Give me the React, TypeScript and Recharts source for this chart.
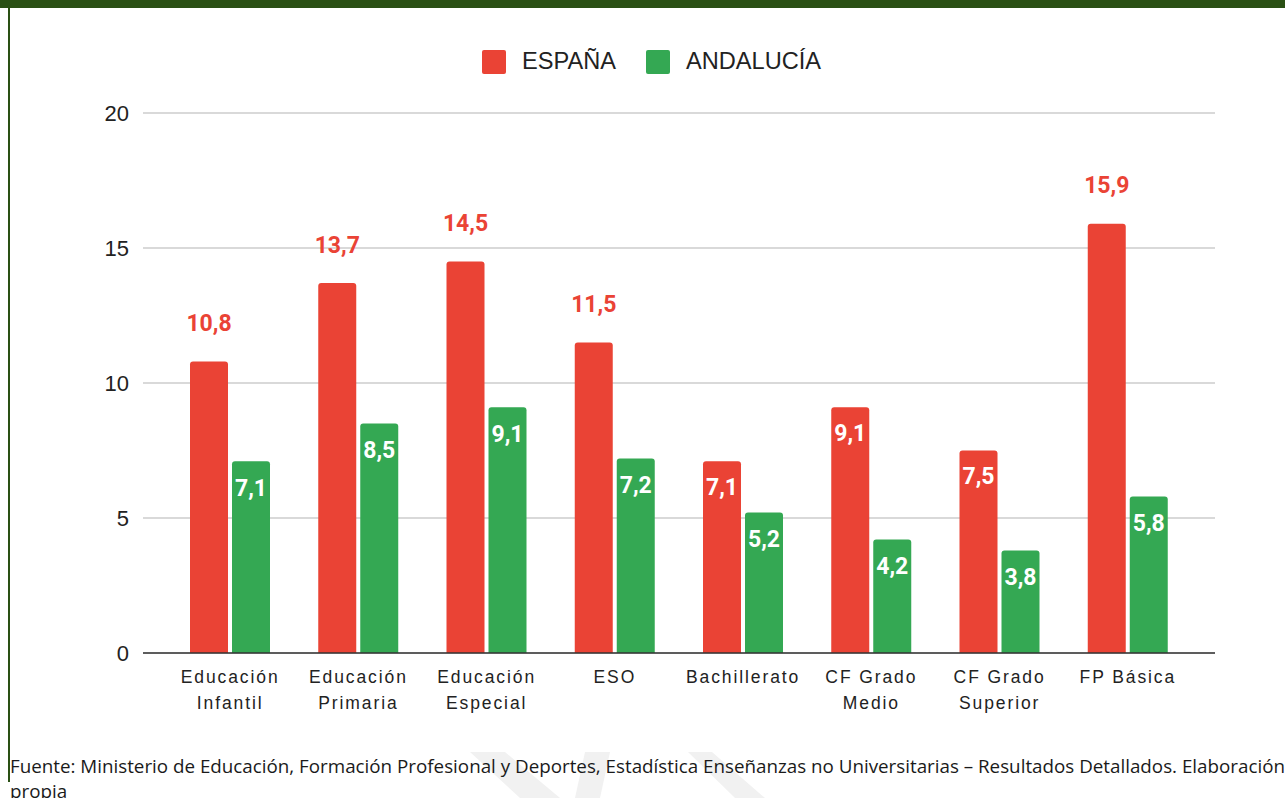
import React from 'react';
import { BarChart, Bar, XAxis, YAxis, CartesianGrid, LabelList } from 'recharts';

const categories = [
  'Educación\nInfantil',
  'Educación\nPrimaria',
  'Educación\nEspecial',
  'ESO',
  'Bachillerato',
  'CF Grado\nMedio',
  'CF Grado\nSuperior',
  'FP Básica',
];
const espana = [10.8, 13.7, 14.5, 11.5, 7.1, 9.1, 7.5, 15.9];
const andalucia = [7.1, 8.5, 9.1, 7.2, 5.2, 4.2, 3.8, 5.8];
const yTicks = [0, 5, 10, 15, 20];

const RED = '#ea4335';
const GREEN = '#34a853';
const SANS = '"Liberation Sans", Arial, sans-serif';

const data = categories.map((name, i) => ({ name, espana: espana[i], andalucia: andalucia[i] }));

const fmt = (v: number) => v.toFixed(1).replace('.', ',');

// labels for España sit above tall bars, inside the short ones
const SpainLabel = (props: any) => {
  const { x, y, width, value } = props;
  const cx = x + width / 2;
  const outside = value >= 10;
  return (
    <text
      x={cx}
      y={outside ? y - 38 : y + 26}
      textAnchor="middle"
      dominantBaseline="central"
      fill={outside ? RED : '#fff'}
      fontFamily="Roboto, sans-serif"
      fontWeight={700}
      fontSize={23}
    >
      {fmt(value)}
    </text>
  );
};

const AndaluciaLabel = (props: any) => {
  const { x, y, width, value } = props;
  return (
    <text
      x={x + width / 2}
      y={y + 27}
      textAnchor="middle"
      dominantBaseline="central"
      fill="#fff"
      fontFamily="Roboto, sans-serif"
      fontWeight={700}
      fontSize={23}
    >
      {fmt(value)}
    </text>
  );
};

const CategoryTick = (props: any) => {
  const { x, y, payload } = props;
  const lines = String(payload.value).split('\n');
  return (
    <g transform={`translate(${x},${y})`}>
      {lines.map((line, i) => (
        <text
          key={i}
          x={0}
          y={28 + i * 26}
          textAnchor="middle"
          fill="#222"
          fontFamily={SANS}
          fontSize={17.5}
          letterSpacing={1.9}
        >
          {line}
        </text>
      ))}
    </g>
  );
};

const LegendItem = ({ color, label }: { color: string; label: string }) => (
  <div style={{ display: 'flex', alignItems: 'center' }}>
    <div style={{ width: 24, height: 24, borderRadius: 2, background: color, marginRight: 16 }} />
    <span style={{ fontFamily: SANS, fontSize: 23.6, color: '#222' }}>{label}</span>
  </div>
);

export default function App() {
  return (
    <div
      style={{
        position: 'absolute',
        left: 0,
        top: 0,
        width: 1285,
        height: 798,
        overflow: 'hidden',
        background: '#fff',
      }}
    >
      <div style={{ position: 'absolute', left: 0, top: 0, width: 1285, height: 8, background: '#2a5014' }} />
      <div style={{ position: 'absolute', left: 8, top: 8, width: 2, height: 774, background: '#2a5014' }} />

      {/* faint watermark behind the footer */}
      <svg style={{ position: 'absolute', left: 0, top: 0 }} width={1285} height={798}>
        <polygon points="470,752 505,752 560,798 520,798" fill="#f1f1f1" />
        <polygon points="585,752 610,752 600,798 575,798" fill="#f1f1f1" />
        <polygon points="688,752 712,752 765,798 735,798" fill="#f1f1f1" />
      </svg>

      <div style={{ position: 'absolute', left: 482, top: 48, display: 'flex', gap: 30 }}>
        <LegendItem color={RED} label="ESPAÑA" />
        <LegendItem color={GREEN} label="ANDALUCÍA" />
      </div>

      <div style={{ position: 'absolute', left: 0, top: 0 }}>
        <BarChart
          width={1285}
          height={760}
          data={data}
          margin={{ top: 113, right: 70, bottom: 27, left: 0 }}
          barSize={38}
          barGap={4}
        >
          <CartesianGrid vertical={false} stroke="#cccccc" strokeWidth={1.5} />
          <XAxis
            dataKey="name"
            height={80}
            padding={{ left: 23, right: 23 }}
            tickLine={false}
            tickSize={0}
            axisLine={{ stroke: '#333', strokeWidth: 1.5 }}
            tick={<CategoryTick />}
            interval={0}
          />
          <YAxis
            width={143}
            domain={[0, 20]}
            ticks={yTicks}
            axisLine={false}
            tickLine={false}
            tickSize={0}
            tickMargin={14}
            tick={{ fill: '#222', fontSize: 22, fontFamily: SANS }}
          />
          <Bar dataKey="espana" fill={RED} radius={[3, 3, 0, 0]} isAnimationActive={false}>
            <LabelList dataKey="espana" content={<SpainLabel />} />
          </Bar>
          <Bar dataKey="andalucia" fill={GREEN} radius={[3, 3, 0, 0]} isAnimationActive={false}>
            <LabelList dataKey="andalucia" content={<AndaluciaLabel />} />
          </Bar>
        </BarChart>
      </div>

      <div
        style={{
          position: 'absolute',
          left: 10,
          top: 754,
          width: 1300,
          fontFamily: '"Open Sans", sans-serif',
          fontSize: 18.8,
          lineHeight: '25px',
          color: '#1a1a1a',
        }}
      >
        Fuente: Ministerio de Educación, Formación Profesional y Deportes, Estadística Enseñanzas no Universitarias –
        Resultados Detallados. Elaboración propia
      </div>
    </div>
  );
}
